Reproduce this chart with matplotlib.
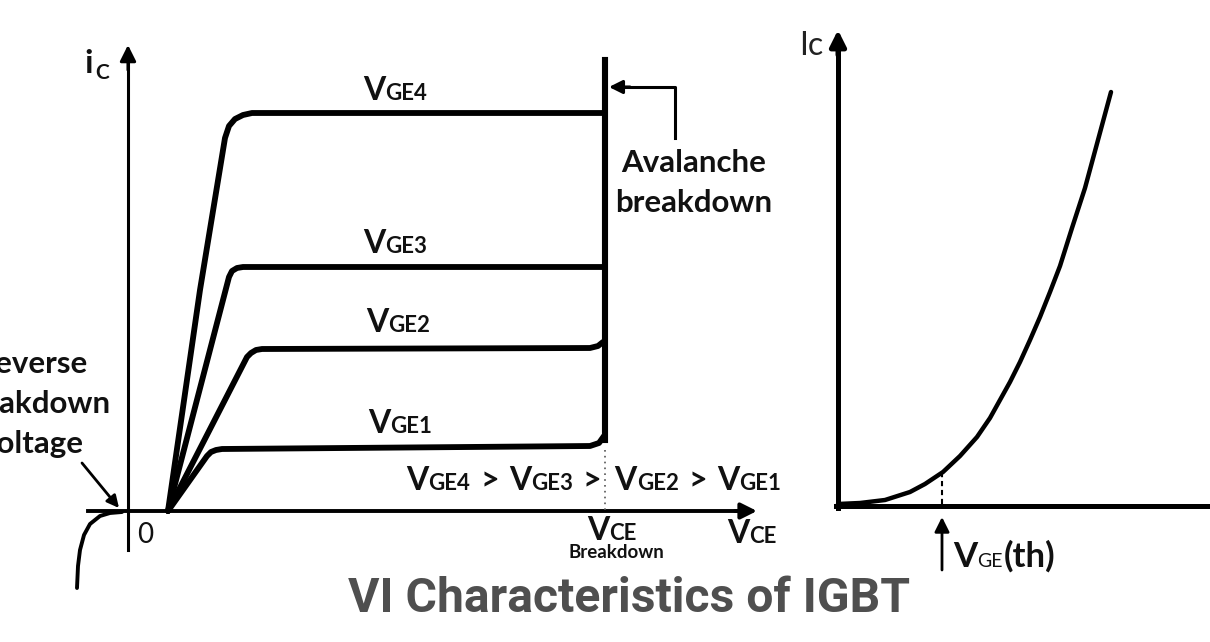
import matplotlib
matplotlib.use("Agg")
import matplotlib.pyplot as plt

# ---- data (pixel space of the 1210x642 reference, y grows downward) ----
# left chart: output characteristics, one curve per gate voltage
vge4_x = [168, 200, 225, 229, 235, 243, 252, 603]
vge4_y = [511, 290, 138, 126, 119, 115, 113, 113]
vge3_x = [168, 229, 232, 237, 243, 603]
vge3_y = [511, 277, 271, 268, 267, 267]
vge2_x = [168, 247, 251, 256, 262, 590, 598, 603]
vge2_y = [511, 357, 353, 350, 349, 348, 346, 342]
vge1_x = [168, 207, 211, 216, 222, 590, 599, 604]
vge1_y = [511, 456, 452, 450, 449, 446, 443, 436]

# reverse breakdown knee (third quadrant)
rev_x = [77, 78, 80, 84, 90, 100, 110, 122]
rev_y = [588, 566, 550, 535, 524, 516, 513, 512]

# right chart: transfer characteristic
tr_x = [838, 860, 885, 910, 925, 943, 960, 977, 990, 1000, 1010, 1020,
        1030, 1040, 1050, 1060, 1072, 1085, 1098, 1111]
tr_y = [504, 503, 500, 492, 484, 472, 456, 437, 418, 400, 382, 362,
        340, 317, 292, 266, 228, 188, 140, 92]

vge_labels = ["GE4", "GE3", "GE2", "GE1"]
label_pos = [(363, 100), (363, 253), (366, 332), (368, 433)]

FONT = ["Lato", "DejaVu Sans"]

fig = plt.figure(figsize=(12.1, 6.42), dpi=100)
ax = fig.add_axes([0, 0, 1, 1])
ax.set_xlim(0, 1210)
ax.set_ylim(642, 0)
ax.axis("off")
renderer = fig.canvas.get_renderer()


def arrow(tail, tip, lw=2.2, scale=22):
    ax.annotate("", xy=tip, xytext=tail,
                arrowprops=dict(arrowstyle="-|>", color="black", lw=lw,
                                mutation_scale=scale, shrinkA=0, shrinkB=0))


def pieces(x, y, parts):
    # parts: (text, size, weight, gap_before), laid out left to right
    cur = x
    for text, size, weight, gap in parts:
        cur += gap
        t = ax.text(cur, y, text, fontsize=size, fontweight=weight,
                    family=FONT, va="baseline", ha="left", color="#111111")
        cur += t.get_window_extent(renderer).width
    return cur


# ---- left chart axes ----
ax.plot([128, 128], [550, 60], color="black", lw=2.2)
arrow((128, 70), (128, 45), lw=2.2, scale=24)
ax.plot([88, 740], [511, 511], color="black", lw=2.8)
arrow((735, 511), (757, 511), lw=2.8, scale=24)

# output curves
for cx, cy in [(vge4_x, vge4_y), (vge3_x, vge3_y),
               (vge2_x, vge2_y), (vge1_x, vge1_y)]:
    ax.plot(cx, cy, color="black", lw=4.2, solid_joinstyle="round",
            solid_capstyle="round")

# avalanche breakdown line
ax.plot([605, 605], [440, 60], color="black", lw=4.4)
ax.plot([605, 605], [450, 510], color="#555555", lw=1.2, ls=(0, (1, 2.5)))

# avalanche pointer
ax.plot([675, 675, 622], [138, 87, 87], color="black", lw=2.2)
arrow((630, 87), (609, 87), lw=2.2, scale=20)

# reverse breakdown
ax.plot(rev_x, rev_y, color="black", lw=2.8, solid_capstyle="round")
arrow((82, 463), (119, 508), lw=2.0, scale=18)

# ---- right chart ----
ax.plot([838, 838], [508, 50], color="black", lw=3.6)
arrow((838, 55), (838, 30), lw=3.6, scale=24)
ax.plot([836, 1210], [506, 506], color="black", lw=3.6)
ax.plot(tr_x, tr_y, color="black", lw=3.2, solid_capstyle="round",
        solid_joinstyle="round")
ax.plot([942, 942], [472, 505], color="black", lw=1.5, ls=(0, (2.5, 1.8)))
arrow((942, 570), (942, 517), lw=2.0, scale=22)

# ---- texts ----
pieces(84, 73, [("i", 24, "bold", 0)])
pieces(95, 79, [("C", 15, "bold", 0)])
ax.text(799, 55, "Ic", fontsize=23, family=FONT, fontweight="normal",
        va="baseline", ha="left", color="#222222")
ax.text(137, 543, "0", fontsize=20, family=FONT, va="baseline", ha="left",
        color="#111111")

for lab, (lx, ly) in zip(vge_labels, label_pos):
    pieces(lx, ly, [("V", 23, "bold", 0), (lab, 16, "bold", 0)])

pieces(406, 490, [("V", 23, "bold", 0), ("GE4", 16, "bold", 0),
                  (">", 23, "bold", 10), ("V", 23, "bold", 10),
                  ("GE3", 16, "bold", 0), (">", 23, "bold", 10),
                  ("V", 23, "bold", 13), ("GE2", 16, "bold", 0),
                  (">", 23, "bold", 10), ("V", 23, "bold", 10),
                  ("GE1", 16, "bold", 0)])

pieces(587, 540, [("V", 23, "bold", 0), ("CE", 16, "bold", 0)])
ax.text(616, 558, "Breakdown", fontsize=13.5, fontweight="bold", family=FONT,
        ha="center", va="baseline", color="#111111")
pieces(727, 543, [("V", 23, "bold", 0), ("CE", 16, "bold", 0)])

ax.text(694, 172, "Avalanche", fontsize=22.5, fontweight="bold", family=FONT,
        ha="center", va="baseline", color="#111111")
ax.text(694, 212, "breakdown", fontsize=22.5, fontweight="bold", family=FONT,
        ha="center", va="baseline", color="#111111")

# cut off at the left edge, as in the reference
for txt, by in zip(["Reverse", "breakdown", "voltage"], [373, 413, 453]):
    ax.text(32, by, txt, fontsize=22.5, fontweight="bold", family=FONT,
            ha="center", va="baseline", color="#111111")

pieces(953, 567, [("V", 25, "bold", 0), ("GE", 14, "normal", 0),
                  ("(th)", 25, "bold", 1)])

# title, fitted to the reference width
title = ax.text(629, 612, "VI Characteristics of IGBT", fontsize=30,
                fontweight="bold", family=["Roboto", "DejaVu Sans"],
                ha="center", va="baseline", color="#4f4f4f")
w = title.get_window_extent(renderer).width
title.set_fontsize(30 * 562 / w)

fig.savefig("out.png", dpi=100)
